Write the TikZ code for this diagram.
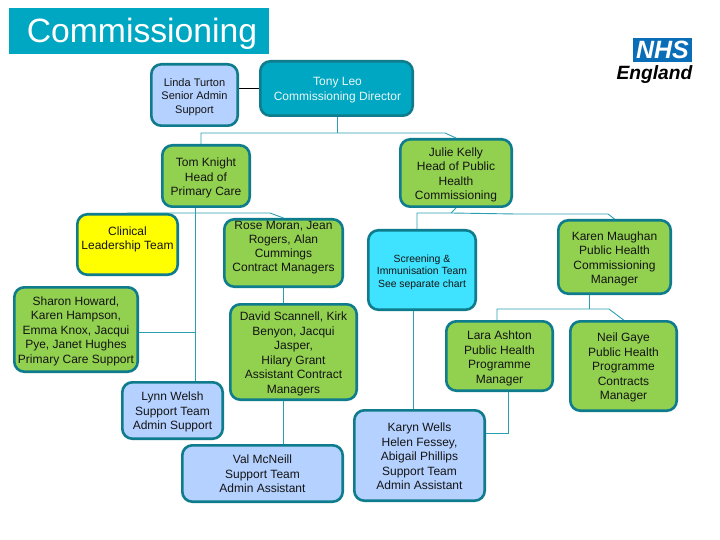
\documentclass[tikz,border=0pt]{standalone}
\usepackage{fontspec}
\setmainfont{Liberation Sans}
\definecolor{titleblue}{HTML}{00A7C2}
\definecolor{edgeteal}{HTML}{0E7C8C}
\definecolor{linkteal}{HTML}{2A9FB0}
\definecolor{greenfill}{HTML}{92D050}
\definecolor{bluefill}{HTML}{B5D1FF}
\definecolor{cyanfill}{HTML}{3FE3FF}
\definecolor{brightyellow}{HTML}{FFFF00}
\definecolor{nhsblue}{HTML}{0A6DB8}
\tikzset{
  orgbox/.style={draw=edgeteal,line width=2.6pt,rounded corners=10pt,inner sep=0pt},
  boxtext/.style={align=center,inner sep=0pt,text=black!92,font=\fontsize{12}{14.5}\selectfont},
  link/.style={draw=linkteal,line width=0.9pt},
}
% name, x1, y1, x2, y2 (outer edges in pixels), fill, text options, text
\newcommand{\orgnode}[8]{%
  \pgfmathsetmacro{\cxx}{(#2+#4)/2}\pgfmathsetmacro{\cyy}{(#3+#5)/2}%
  \pgfmathsetmacro{\wdd}{#4-#2-2.6}\pgfmathsetmacro{\htt}{#5-#3-2.6}%
  \node[orgbox,fill=#6,minimum width=\wdd pt,minimum height=\htt pt,
    label={[boxtext,#7]center:{#8}}] (#1) at (\cxx,\cyy) {};}
\begin{document}
\begin{tikzpicture}[x=1pt,y=-1pt]
\useasboundingbox (0,0) rectangle (720,540);
\fill[white] (0,0) rectangle (720,540);
% title
\node[fill=titleblue,text=white,minimum width=260pt,minimum height=46pt,inner sep=0pt,
  font=\fontsize{33.7}{36}\selectfont,text depth=0pt] (title) at (139,31) {\hspace*{6pt}\raisebox{1pt}{Commissioning}};
% logo
\node[fill=nhsblue,text=white,minimum width=59pt,minimum height=24pt,inner sep=0pt,
  font=\fontsize{25}{25}\selectfont\bfseries\itshape] (nhs) at (662.5,50) {NHS};
\node[anchor=east,inner sep=0pt,font=\fontsize{19.2}{22}\selectfont\bfseries\itshape] (eng) at (692.5,75) {England};
% boxes
\orgnode{linda}{150}{63}{239}{127}{bluefill}{yshift=-2pt,font=\fontsize{11}{13.2}\selectfont}{Linda Turton\\Senior Admin\\Support}
\orgnode{tony}{259}{60}{414}{117}{titleblue}{xshift=1pt,yshift=-1.5pt,text=white!92!titleblue}{Tony Leo\\Commissioning Director}
\orgnode{tom}{161}{144}{251}{208}{greenfill}{yshift=-2pt}{Tom Knight\\Head of\\Primary Care}
\orgnode{julie}{399}{138}{513}{208}{greenfill}{yshift=-2pt}{Julie Kelly\\Head of Public\\Health\\Commissioning}
\orgnode{clinical}{76}{213}{179}{276}{brightyellow}{yshift=5pt}{Clinical\\Leadership Team}
\orgnode{rose}{223}{218}{344}{288}{greenfill}{yshift=5.5pt,font=\fontsize{12}{14}\selectfont}{Rose Moran, Jean\\Rogers, Alan\\Cummings\\Contract Managers}
\orgnode{screen}{367}{229}{477}{311}{cyanfill}{yshift=-2pt,font=\fontsize{10.4}{12.5}\selectfont}{Screening \&\\Immunisation Team\\See separate chart}
\orgnode{karen}{557}{219}{672}{295}{greenfill}{yshift=-2pt}{Karen Maughan\\Public Health\\Commissioning\\Manager}
\orgnode{sharon}{13}{286}{139}{373}{greenfill}{yshift=-1.5pt}{Sharon Howard,\\Karen Hampson,\\Emma Knox, Jacqui\\Pye, Janet Hughes\\Primary Care Support}
\orgnode{david}{229}{303}{358}{401}{greenfill}{yshift=-2pt}{David Scannell, Kirk\\Benyon, Jacqui\\Jasper,\\Hilary Grant\\Assistant Contract\\Managers}
\orgnode{lynn}{121}{381}{224}{440}{bluefill}{yshift=-1.5pt}{Lynn Welsh\\Support Team\\Admin Support}
\orgnode{val}{181}{444}{344}{503}{bluefill}{yshift=-0.5pt}{Val McNeill\\Support Team\\Admin Assistant}
\orgnode{lara}{445}{320}{554}{392}{greenfill}{yshift=-2.5pt}{Lara Ashton\\Public Health\\Programme\\Manager}
\orgnode{neil}{569}{320}{678}{412}{greenfill}{yshift=-1.5pt}{Neil Gaye\\Public Health\\Programme\\Contracts\\Manager}
\orgnode{karyn}{353}{409}{486}{502}{bluefill}{yshift=-1pt}{Karyn Wells\\Helen Fessey,\\Abigail Phillips\\Support Team\\Admin Assistant}
% junction coordinates
\coordinate (ta) at (337.5,133);
\coordinate (tb) at (201,133);
\coordinate (tc) at (445,133);
\coordinate (pa) at (195.5,213);
\coordinate (pb) at (127,213);
\coordinate (pc) at (270,213);
\coordinate (pd) at (195.5,332);
\coordinate (ja) at (451,213);
\coordinate (jb) at (417,213);
\coordinate (jc) at (516,214);
\coordinate (jd) at (608,214);
\coordinate (ka) at (589.5,309);
\coordinate (kb) at (497,309);
\coordinate (kc) at (609,309);
\coordinate (la) at (508,433);
\coordinate (sa) at (413.5,409);
\coordinate (ra) at (283.5,300);
% connectors
\draw[black,line width=0.9pt] (linda.east |- 0,88.5) -- (tony.west |- 0,88.5);
\draw[link] (tony.south -| ta) -- (ta);
\draw[link] (tb |- tom.north) -- (tb) -- (tc) -- (julie.north);
\draw[link] (tom.south -| pa) -- (pa |- lynn.north);
\draw[link] (pb) -- (pc) -- (rose.north);
\draw[link] (sharon.east |- pd) -- (pd);
\draw[link] (rose.south -| ra) -- (david.north -| ra);
\draw[link] (david.south -| ra) -- (val.north -| ra);
\draw[link] (julie.south) -- (ja);
\draw[link] (jb |- screen.north) -- (jb) -- (ja) -- (jc) -- (jd) -- (karen.north);
\draw[link] (screen.south -| sa) -- (sa |- karyn.north);
\draw[link] (karen.south -| ka) -- (ka);
\draw[link] (kb |- lara.north) -- (kb) -- (kc) -- (neil.north);
\draw[link] (lara.south -| la) -- (la) -- (karyn.east |- la);
\end{tikzpicture}
\end{document}
